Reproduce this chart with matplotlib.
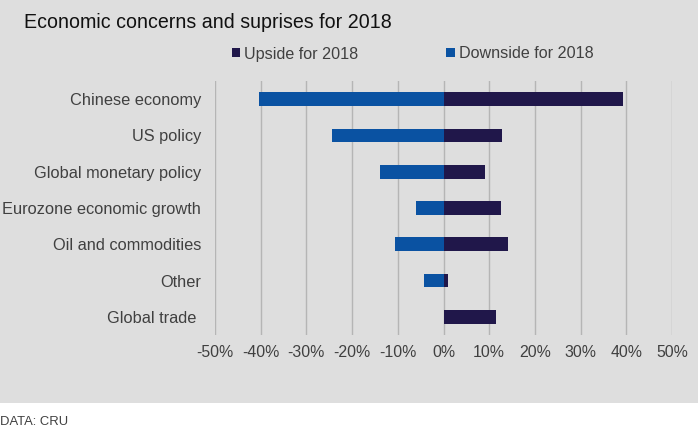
"""Economic concerns and surprises for 2018 - diverging horizontal bars."""

import matplotlib
matplotlib.use("Agg")
import matplotlib.pyplot as plt
from matplotlib.patches import Patch, Rectangle
from matplotlib.ticker import FuncFormatter

CATEGORIES = [
    "Chinese economy",
    "US policy",
    "Global monetary policy",
    "Eurozone economic growth",
    "Oil and commodities",
    "Other",
    "Global trade ",
]
UPSIDE = [39.2, 12.9, 9.1, 12.6, 14.2, 0.9, 11.5]
DOWNSIDE = [-40.4, -24.4, -13.9, -6.0, -10.6, -4.2, 0.0]
XTICKS = [-50, -40, -30, -20, -10, 0, 10, 20, 30, 40, 50]

UP_COLOR = "#20174a"
DOWN_COLOR = "#0a52a2"
BG = "#dedede"
TEXT = "#404040"

plt.rcParams["font.family"] = ["Liberation Sans", "DejaVu Sans"]

W, H = 698, 428


def main() -> None:
    fig = plt.figure(figsize=(W / 100, H / 100), dpi=100, facecolor="white")
    fig.patches.append(
        Rectangle((0, 25 / H), 1, 1 - 25 / H, transform=fig.transFigure,
                  facecolor=BG, edgecolor="none", zorder=-10)
    )

    ax = fig.add_axes([215 / W, 1 - 335 / H, (672 - 215) / W, (335 - 81) / H])
    ax.set_facecolor(BG)

    y = list(range(len(CATEGORIES)))
    ax.barh(y, UPSIDE, height=0.38, color=UP_COLOR, zorder=3)
    ax.barh(y, DOWNSIDE, height=0.38, color=DOWN_COLOR, zorder=3)

    ax.set_ylim(len(CATEGORIES) - 0.5, -0.5)
    ax.set_xlim(-50, 50)
    ax.set_xticks(XTICKS)
    ax.xaxis.set_major_formatter(FuncFormatter(lambda v, _: f"{v:.0f}%"))
    ax.set_yticks(y)
    ax.set_yticklabels(CATEGORIES)

    ax.tick_params(axis="x", length=0, pad=7, labelsize=11.4, labelcolor=TEXT)
    ax.tick_params(axis="y", length=0, pad=10, labelsize=11.8, labelcolor=TEXT)
    ax.grid(axis="x", color="#b5b5b5", linewidth=1.0, zorder=0)
    ax.grid(axis="y", visible=False)
    ax.set_axisbelow(True)
    for s in ax.spines.values():
        s.set_visible(False)

    fig.text(24 / W, 1 - 23 / H, "Economic concerns and suprises for 2018",
             fontsize=14.1, color="#111111", ha="left", va="center")

    handles = [
        Patch(facecolor=UP_COLOR, edgecolor="none", label="Upside for 2018"),
        Patch(facecolor=DOWN_COLOR, edgecolor="none", label="Downside for 2018"),
    ]
    leg = fig.legend(
        handles=handles, loc="center left", bbox_to_anchor=(231.5 / W, 1 - 54 / H),
        ncol=2, frameon=False, fontsize=11.6, handlelength=0.5, handleheight=0.5,
        handletextpad=0.25, columnspacing=5.5, borderpad=0, borderaxespad=0,
    )
    for t in leg.get_texts():
        t.set_color(TEXT)

    fig.text(0, 1 - 422 / H, "DATA: CRU", fontsize=9.4, color=TEXT,
             ha="left", va="center")

    fig.savefig("out.png", dpi=100, facecolor=fig.get_facecolor())
    plt.close(fig)


if __name__ == "__main__":
    main()
